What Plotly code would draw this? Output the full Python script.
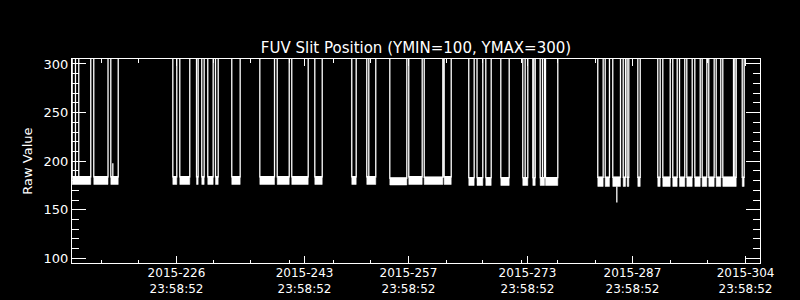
import plotly.graph_objects as go

# ---- data (x in day-of-year 2015, y in raw value) ----
block_start = [212.09, 214.97, 217.24, 225.51, 226.44, 228.67, 229.37, 230.17, 231.20, 233.37,
               237.11, 239.43, 241.37, 244.44, 249.37, 251.37, 254.44, 256.97, 259.03, 261.69,
               264.97, 266.07, 267.24, 269.24, 272.17, 273.51, 274.49, 275.20, 282.17, 283.16,
               284.17, 285.56, 286.09, 287.51, 290.17, 290.84, 292.17, 293.07, 294.04, 295.11,
               296.09, 296.97, 297.96, 298.84, 301.43]
block_end = [214.57, 216.87, 218.23, 226.04, 227.77, 228.89, 229.69, 230.89, 231.56, 234.49,
             239.07, 241.03, 243.56, 245.43, 249.96, 252.57, 256.71, 258.76, 261.51, 262.63,
             265.69, 266.84, 267.96, 270.36, 272.84, 273.83, 275.07, 276.84, 282.89, 283.73,
             285.20, 285.87, 286.31, 287.83, 290.49, 291.83, 292.76, 293.77, 294.76, 295.83,
             296.71, 297.69, 298.57, 300.63, 301.69]
band_top = [184.0] * 16 + [182.7, 184.0, 183.5, 184.0] + [183.0] * 8 + [183.5] * 17
band_bottom = [176.0] * 16 + [175.5, 176.0, 176.0, 176.0] + [175.0] * 8 + [174.0] * 17

inner_spike_day = [212.53, 212.97, 251.64, 272.49, 273.64, 274.80, 300.27, 300.44]
inner_spike_base = [184.0, 184.0, 184.0, 183.0, 183.0, 183.0, 183.5, 183.5]

short_spike_day = [217.51, 284.71]
short_spike_base = [184.0, 174.0]
short_spike_value = [198.0, 157.6]

OFFSCALE = 400.0  # value while the slit is out of range (above plot)

tick_days = [226.0, 243.07, 256.93, 272.8, 286.8, 301.87]
tick_labels = ["2015-226<br>23:58:52", "2015-243<br>23:58:52", "2015-257<br>23:58:52",
               "2015-273<br>23:58:52", "2015-287<br>23:58:52", "2015-304<br>23:58:52"]
minor_tick_days = [216.04, 220.97, 230.97, 235.87, 241.07, 246.97, 251.93, 262.0, 266.8,
                   272.0, 276.8, 281.87, 286.8, 291.87, 296.8, 301.87]

x_range = [212.067, 303.8]
y_range = [95.3, 305.1]

# ---- build traces ----
line_x, line_y = [], []
for s, e, t in zip(block_start, block_end, band_top):
    line_x += [s, s, e, e]
    line_y += [OFFSCALE, t, t, OFFSCALE]

band_x, band_y = [], []
for s, e, t, b in zip(block_start, block_end, band_top, band_bottom):
    band_x += [s, e, e, s, s, None]
    band_y += [b, b, t, t, b, None]

sp_x, sp_y = [], []
for d, b in zip(inner_spike_day, inner_spike_base):
    sp_x += [d, d, None]
    sp_y += [b, OFFSCALE, None]
for d, b, v in zip(short_spike_day, short_spike_base, short_spike_value):
    sp_x += [d, d, None]
    sp_y += [b, v, None]

fig = go.Figure()
fig.add_trace(go.Scatter(x=band_x, y=band_y, mode="lines", fill="toself",
                         fillcolor="white", line=dict(color="white", width=0.5),
                         hoverinfo="skip", showlegend=False))
fig.add_trace(go.Scatter(x=line_x, y=line_y, mode="lines",
                         line=dict(color="white", width=1.3), showlegend=False))
fig.add_trace(go.Scatter(x=sp_x, y=sp_y, mode="lines",
                         line=dict(color="white", width=1.3), showlegend=False))

font = "DejaVu Sans"
fig.update_layout(
    width=800, height=300,
    paper_bgcolor="black", plot_bgcolor="black",
    margin=dict(l=72, r=40, t=59, b=37, autoexpand=False),
    font=dict(family=font, color="white", size=13),
    title=dict(text="FUV Slit Position (YMIN=100, YMAX=300)", x=0.5, xref="paper",
               y=1 - 48 / 300, yref="container", xanchor="center", yanchor="middle",
               font=dict(family=font, size=15, color="white")),
    showlegend=False,
)
fig.update_xaxes(
    range=x_range, showgrid=False, zeroline=False, automargin=False,
    showline=True, linecolor="white", linewidth=1, mirror="allticks",
    ticks="inside", ticklen=7, tickcolor="white", tickwidth=1,
    tickmode="array", tickvals=tick_days, ticktext=tick_labels,
    ticklabelstandoff=-1,
    tickfont=dict(family=font, size=12, color="white"),
    minor=dict(tickmode="array", tickvals=minor_tick_days, ticks="inside",
               ticklen=3.5, tickcolor="white", tickwidth=1, showgrid=False),
)
fig.update_yaxes(
    range=y_range, showgrid=False, zeroline=False, automargin=False,
    showline=True, linecolor="white", linewidth=1, mirror="allticks",
    ticks="inside", ticklen=14, tickcolor="white", tickwidth=1,
    tickmode="linear", tick0=100, dtick=50,
    tickfont=dict(family=font, size=13, color="white"),
    minor=dict(tickmode="linear", tick0=100, dtick=10, ticks="inside",
               ticklen=7, tickcolor="white", tickwidth=1, showgrid=False),
)
fig.add_annotation(text="Raw Value", textangle=-90, xref="paper", yref="paper",
                   x=(26.7 - 72) / 688, y=0.5, xanchor="center", yanchor="middle",
                   showarrow=False, font=dict(family=font, size=13, color="white"))

fig.write_html("out.html")
